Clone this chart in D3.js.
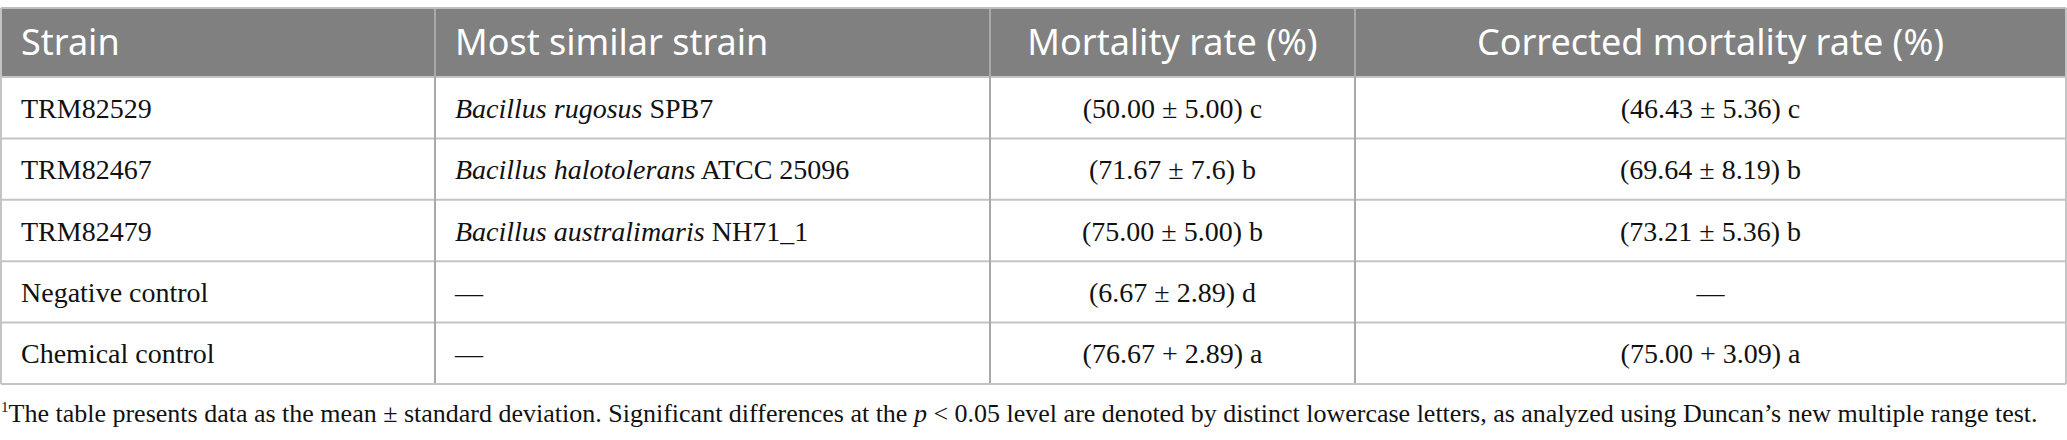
<!DOCTYPE html>
<html>
<head>
<meta charset="utf-8">
<script src="https://cdn.jsdelivr.net/npm/d3@7"></script>
<style>
    body { margin: 0; background: #fff; }
    svg { display: block; }
</style>
</head>
<body>
<div class="table"></div>
<script>
// Table contents
const headers = ["Strain", "Most similar strain", "Mortality rate (%)", "Corrected mortality rate (%)"];
const strains = ["TRM82529", "TRM82467", "TRM82479", "Negative control", "Chemical control"];
const similarSpecies = ["Bacillus rugosus", "Bacillus halotolerans", "Bacillus australimaris", null, null];
const similarIds = ["SPB7", "ATCC 25096", "NH71_1", null, null];
const mortalityMean = ["50.00", "71.67", "75.00", "6.67", "76.67"];
const mortalitySd = ["5.00", "7.6", "5.00", "2.89", "2.89"];
const mortalityGroup = ["c", "b", "b", "d", "a"];
const correctedMean = ["46.43", "69.64", "73.21", null, "75.00"];
const correctedSd = ["5.36", "8.19", "5.36", null, "3.09"];
const correctedGroup = ["c", "b", "b", null, "a"];
// the last row uses "+" in the source table
const signs = ["±", "±", "±", "±", "+"];

// Size of the drawing
let width = 2067;
let height = 440;

let margin = {
    top: 8,
    header: 77,
    bottom: 384,
    pad: 20
};

// Column edges
const colEdges = [1, 435, 990, 1355, 2066];

let svg = d3.select(".table").append("svg")
    .attr("width", width)
    .attr("height", height)
    .attr("viewBox", `0 0 ${width} ${height}`);

// Row scale for the body
const yScale = d3.scaleBand()
    .domain(d3.range(strains.length))
    .range([margin.header, margin.bottom]);

// Header background
svg.append("rect")
    .attr("x", colEdges[0])
    .attr("y", margin.top)
    .attr("width", colEdges[4] - colEdges[0])
    .attr("height", margin.header - margin.top)
    .attr("fill", "#808080");

// Horizontal row lines
svg.selectAll(".hline")
    .data(d3.range(strains.length))
    .enter().append("line")
    .attr("class", "hline")
    .attr("x1", colEdges[0])
    .attr("x2", colEdges[4])
    .attr("y1", d => yScale(d))
    .attr("y2", d => yScale(d))
    .attr("stroke", "#c4c4c4")
    .attr("stroke-width", 2);

// Vertical column lines
svg.selectAll(".vline")
    .data(colEdges)
    .enter().append("line")
    .attr("class", "vline")
    .attr("x1", d => d)
    .attr("x2", d => d)
    .attr("y1", margin.top)
    .attr("y2", margin.bottom)
    .attr("stroke", (d, i) => (i == 0 || i == 4) ? "#c4c4c4" : "#a9a9a9")
    .attr("stroke-width", 2);

// Top and bottom border
svg.append("line")
    .attr("x1", colEdges[0]).attr("x2", colEdges[4])
    .attr("y1", margin.top).attr("y2", margin.top)
    .attr("stroke", "#bdbdbd").attr("stroke-width", 2);
svg.append("line")
    .attr("x1", colEdges[0]).attr("x2", colEdges[4])
    .attr("y1", margin.bottom).attr("y2", margin.bottom)
    .attr("stroke", "#c4c4c4").attr("stroke-width", 2);

// Header text
svg.selectAll(".head")
    .data(headers)
    .enter().append("text")
    .attr("class", "head")
    .attr("x", (d, i) => i < 2 ? colEdges[i] + margin.pad : (colEdges[i] + colEdges[i + 1]) / 2)
    .attr("y", 55)
    .attr("text-anchor", (d, i) => i < 2 ? "start" : "middle")
    .attr("font-family", "'Noto Sans', sans-serif")
    .attr("font-size", 36)
    .attr("fill", "#ffffff")
    .text(d => d);

const bodyFont = "'Liberation Serif', 'Times New Roman', serif";
const bodySize = 28;
const baseline = yScale.bandwidth() / 2 + 10;

let rows = svg.selectAll(".row")
    .data(d3.range(strains.length))
    .enter().append("g")
    .attr("class", "row")
    .attr("transform", d => `translate(0, ${yScale(d) + baseline})`)
    .attr("font-family", bodyFont)
    .attr("font-size", bodySize)
    .attr("fill", "#111111");

// Strain column
rows.append("text")
    .attr("x", colEdges[0] + margin.pad)
    .text(d => strains[d]);

// Most similar strain column, species name in italics
let similar = rows.append("text")
    .attr("x", colEdges[1] + margin.pad);
similar.each(function (d) {
    let t = d3.select(this);
    if (similarSpecies[d] == null) {
        t.text("—");
        return;
    }
    t.append("tspan").attr("font-style", "italic").text(similarSpecies[d]);
    t.append("tspan").text(" " + similarIds[d]);
});

// Mortality rate column
rows.append("text")
    .attr("x", (colEdges[2] + colEdges[3]) / 2)
    .attr("text-anchor", "middle")
    .text(d => `(${mortalityMean[d]} ${signs[d]} ${mortalitySd[d]}) ${mortalityGroup[d]}`);

// Corrected mortality rate column
rows.append("text")
    .attr("x", (colEdges[3] + colEdges[4]) / 2)
    .attr("text-anchor", "middle")
    .text(d => correctedMean[d] == null ? "—" : `(${correctedMean[d]} ${signs[d]} ${correctedSd[d]}) ${correctedGroup[d]}`);

// Footnote
let note = svg.append("text")
    .attr("x", 1)
    .attr("y", 422)
    .attr("font-family", bodyFont)
    .attr("font-size", 26)
    .attr("fill", "#111111");
note.append("tspan").attr("font-size", 15).attr("dy", -10).text("1");
note.append("tspan").attr("dy", 10).text("The table presents data as the mean ± standard deviation. Significant differences at the ");
note.append("tspan").attr("font-style", "italic").text("p");
note.append("tspan").text(" < 0.05 level are denoted by distinct lowercase letters, as analyzed using Duncan’s new multiple range test.");
</script>
</body>
</html>
